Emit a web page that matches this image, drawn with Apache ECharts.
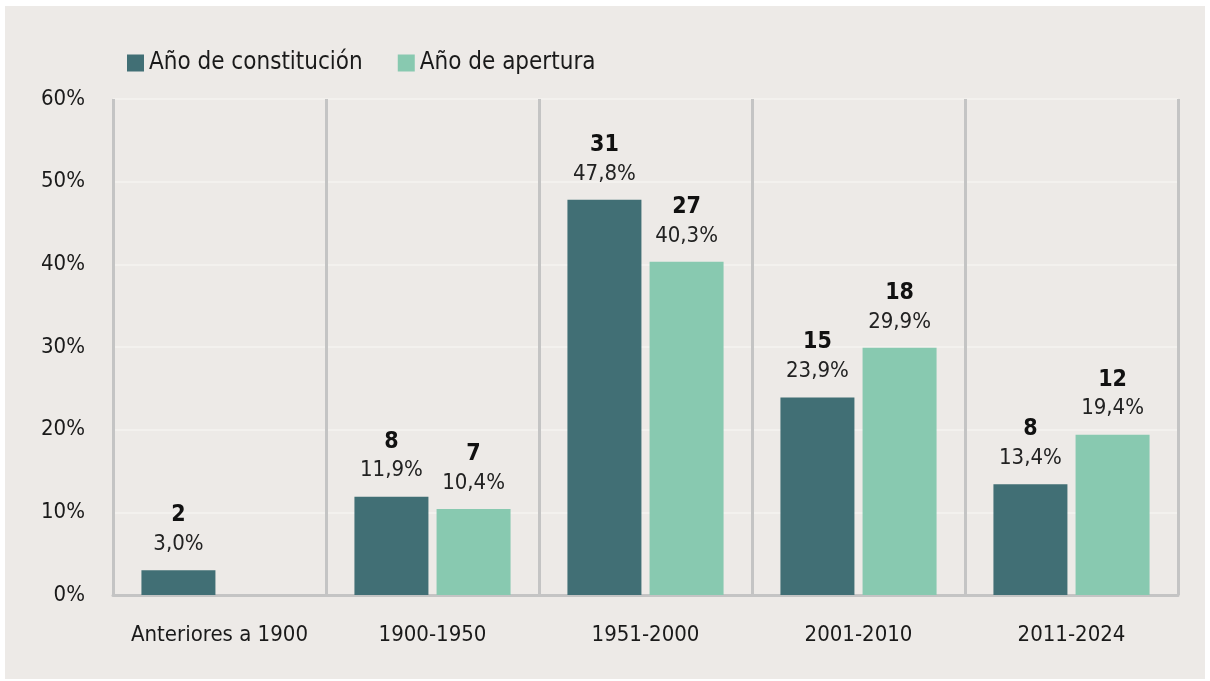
<!DOCTYPE html>
<html>
<head>
<meta charset="utf-8">
<script src="https://cdn.jsdelivr.net/npm/echarts@6/dist/echarts.min.js"></script>
<style>
  html, body { margin: 0; padding: 0; background: #ffffff; }
  .bg { position: absolute; left: 5px; top: 6px; width: 1200px; height: 673px; background: #edeae7; }
  #chart { position: absolute; left: 0; top: 0; width: 1210px; height: 681px; }
</style>
</head>
<body>
<div class="bg"></div>
<div id="chart"></div>
<script>
// datos
const categories = ['Anteriores a 1900', '1900-1950', '1951-2000', '2001-2010', '2011-2024']
const constitucionCount = [2, 8, 31, 15, 8]
const constitucionPct = [3.0, 11.9, 47.8, 23.9, 13.4]
const aperturaCount = [null, 7, 27, 18, 12]
const aperturaPct = [null, 10.4, 40.3, 29.9, 19.4]
const yTicks = [0, 10, 20, 30, 40, 50, 60]

const font = '"Liberation Sans Narrow", "DejaVu Sans Condensed", sans-serif'

const chart = echarts.init(document.getElementById('chart'))

function makeLabel(counts) {
  return {
    show: true,
    position: 'top',
    distance: 12,
    formatter: p => {
      const n = counts[p.dataIndex]
      if (n == null) return ''
      return '{n|' + n + '}\n{p|' + p.value.toFixed(1).replace('.', ',') + '%}'
    },
    rich: {
      n: { fontFamily: font, fontSize: 23, fontWeight: 'bold', color: '#111', lineHeight: 30 },
      p: { fontFamily: font, fontSize: 22, color: '#222', lineHeight: 28 }
    }
  }
}

const option = {
  animation: false,
  textStyle: { fontFamily: font },
  legend: {
    left: 122,
    top: 46,
    itemWidth: 17,
    itemHeight: 17,
    itemGap: 35,
    icon: 'rect',
    textStyle: { fontFamily: font, fontSize: 24, color: '#1a1a1a' },
    data: ['Año de constitución', 'Año de apertura']
  },
  grid: { left: 113, right: 32, top: 99, bottom: 86 },
  xAxis: {
    type: 'category',
    data: categories,
    axisLine: { show: true, lineStyle: { color: '#c4c4c4', width: 3 } },
    axisTick: { show: false },
    splitLine: { show: true, interval: 0, lineStyle: { color: '#c4c4c4', width: 3 } },
    axisLabel: { interval: 0, fontFamily: font, fontSize: 22, color: '#1a1a1a', margin: 29 }
  },
  yAxis: {
    type: 'value',
    min: yTicks[0],
    max: yTicks[yTicks.length - 1],
    interval: 10,
    axisLine: { show: false },
    axisTick: { show: false },
    splitLine: { lineStyle: { color: '#f5f3f1', width: 1.5 } },
    axisLabel: { fontFamily: font, fontSize: 22, color: '#1a1a1a', margin: 28, formatter: '{value}%' }
  },
  series: [
    {
      name: 'Año de constitución',
      type: 'bar',
      data: constitucionPct,
      barWidth: 74,
      barGap: '11%',
      itemStyle: { color: '#416f75' },
      label: makeLabel(constitucionCount)
    },
    {
      name: 'Año de apertura',
      type: 'bar',
      data: aperturaPct,
      barWidth: 74,
      itemStyle: { color: '#88c9b0' },
      label: makeLabel(aperturaCount)
    }
  ]
}

chart.setOption(option)

window.addEventListener('resize', () => {
  chart.resize()
})
</script>
</body>
</html>
